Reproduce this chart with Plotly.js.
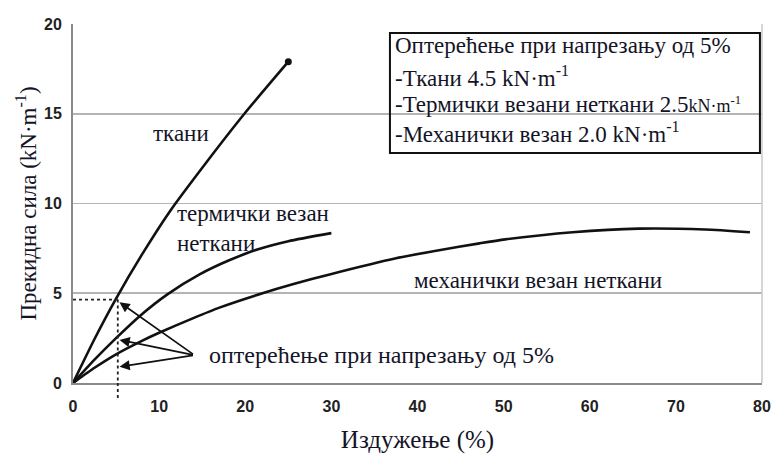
<!DOCTYPE html>
<html>
<head>
<meta charset="utf-8">
<script src="https://cdn.plot.ly/plotly-3.0.1.min.js"></script>
<style>html,body{margin:0;padding:0;background:#fff;}#chart{width:773px;height:454px;}</style>
</head>
<body>
<div id="chart"></div>
<script>
// Data
const tkaniX = [0, 2.5, 5, 8, 11.3, 15.5, 19.9, 25];
const tkaniY = [0, 2.45, 4.7, 7.15, 9.6, 12.3, 15.0, 17.9];

const termX = [0, 2.5, 5, 7.8, 11, 14.7, 18.2, 21.5, 25, 30];
const termY = [0, 1.3, 2.5, 3.75, 4.95, 6.05, 6.85, 7.45, 7.9, 8.35];

const mehX = [0, 2.5, 5, 8, 10, 13.9, 17, 22, 25.5, 29.8, 37.5, 42.5, 47.2, 50.2, 58, 65.7, 73.4, 78.6];
const mehY = [0, 0.85, 1.6, 2.35, 2.8, 3.6, 4.2, 5.0, 5.5, 6.05, 6.95, 7.4, 7.78, 8.0, 8.4, 8.6, 8.55, 8.4];

// 5% strain guide and load values marked at 5%
const guideStrain = 5.2;
const guideLoad = 4.65;
const arrowTailX = 14.1, arrowTailY = 1.55;
const arrowTipX = [5.4, 5.4, 5.4];
const arrowTipY = [4.5, 2.4, 0.9];

const xTicks = [0, 10, 20, 30, 40, 50, 60, 70, 80];
const yTicks = [0, 5, 10, 15, 20];

const serif = "Liberation Serif";
const sans = "Liberation Sans";
const txtColor = "#141428";

const lineStyle = {color: "#111", width: 2.6, shape: "spline", smoothing: 0.6};

const traces = [
  {x: tkaniX, y: tkaniY, mode: "lines", line: lineStyle, hoverinfo: "skip"},
  {x: [tkaniX[tkaniX.length-1]], y: [tkaniY[tkaniY.length-1]], mode: "markers", marker: {color: "#111", size: 7}, hoverinfo: "skip"},
  {x: termX, y: termY, mode: "lines", line: lineStyle, hoverinfo: "skip"},
  {x: mehX, y: mehY, mode: "lines", line: lineStyle, hoverinfo: "skip"},
  {x: [0, guideStrain], y: [guideLoad, guideLoad], mode: "lines", line: {color: "#222", width: 1.8, dash: "dot"}, hoverinfo: "skip"},
  {x: [guideStrain, guideStrain], y: [guideLoad, 0], mode: "lines", line: {color: "#222", width: 1.8, dash: "dot"}, hoverinfo: "skip"}
];

const annotations = [];
for (let i = 0; i < arrowTipX.length; i++) {
  annotations.push({
    x: arrowTipX[i], y: arrowTipY[i], xref: "x", yref: "y",
    ax: arrowTailX, ay: arrowTailY, axref: "x", ayref: "y",
    showarrow: true, arrowhead: 2, arrowsize: 1.2, arrowwidth: 1.7, arrowcolor: "#111", text: ""
  });
}
const f23 = {family: serif, size: 23, color: txtColor};
const f24 = {family: serif, size: 24, color: txtColor};
const boxText = (y, text) => ({x: 0.4645, y: y, xref: "paper", yref: "paper", xanchor: "left", yanchor: "middle", text: text, showarrow: false, font: f23});
annotations.push(
  {x: 12.5, y: 13.9, xref: "x", yref: "y", xanchor: "center", yanchor: "middle", text: "ткани", showarrow: false, font: f23},
  {x: 11.8, y: 8.6, xref: "x", yref: "y", xanchor: "left", yanchor: "middle", align: "left", text: "термички везан<br>неткани", showarrow: false, font: f23},
  {x: 54, y: 5.7, xref: "x", yref: "y", xanchor: "center", yanchor: "middle", text: "механички везан неткани", showarrow: false, font: f23},
  {x: 15.6, y: 1.55, xref: "x", yref: "y", xanchor: "left", yanchor: "middle", text: "оптерећење при напрезању од 5%", showarrow: false, font: f24},
  boxText(0.941, "Оптерећење при напрезању од 5%"),
  boxText(0.855, "-Ткани 4.5 kN·m<sup>-1</sup>"),
  boxText(0.777, "-Термички везани неткани 2.5<span style='font-size:18px'>kN·m<sup>-1</sup></span>"),
  boxText(0.697, "-Механички везан 2.0 kN·m<sup>-1</sup>")
);

const tickFont = {family: sans, size: 16, color: "#222", weight: "bold"};

const layout = {
  width: 773, height: 454,
  margin: {l: 73, r: 11, t: 24, b: 71},
  paper_bgcolor: "#fff", plot_bgcolor: "#fff",
  showlegend: false,
  font: {family: serif, color: txtColor},
  xaxis: {
    range: [0, 80], tickvals: xTicks, showgrid: false, zeroline: false,
    showline: true, linecolor: "#8a8a8a", linewidth: 2, ticks: "",
    ticklabelstandoff: 8, tickfont: tickFont,
    title: {text: "Издужење (%)", font: {family: serif, size: 25, color: txtColor}, standoff: 16}
  },
  yaxis: {
    range: [0, 20], tickvals: yTicks, showgrid: true, gridcolor: "#b4b4b4", gridwidth: 1.6, zeroline: false,
    showline: true, linecolor: "#8a8a8a", linewidth: 2, ticks: "",
    ticklabelstandoff: 6, tickfont: tickFont,
    title: {text: "Прекидна сила (kN·m<sup>-1</sup>)", font: {family: serif, size: 23, color: txtColor}, standoff: 1}
  },
  shapes: [
    {type: "line", xref: "paper", yref: "paper", x0: 1, x1: 1, y0: 0, y1: 1, line: {color: "#c8c8c8", width: 1.5}},
    {type: "line", xref: "x", yref: "paper", x0: guideStrain, x1: guideStrain, y0: 0, y1: -0.05, line: {color: "#222", width: 1.8, dash: "dot"}},
    {type: "rect", xref: "paper", yref: "paper", x0: 0.46, x1: 0.997, y0: 0.641, y1: 0.975, line: {color: "#111", width: 2}}
  ],
  annotations: annotations
};

Plotly.newPlot("chart", traces, layout, {staticPlot: true, displayModeBar: false});
</script>
</body>
</html>
